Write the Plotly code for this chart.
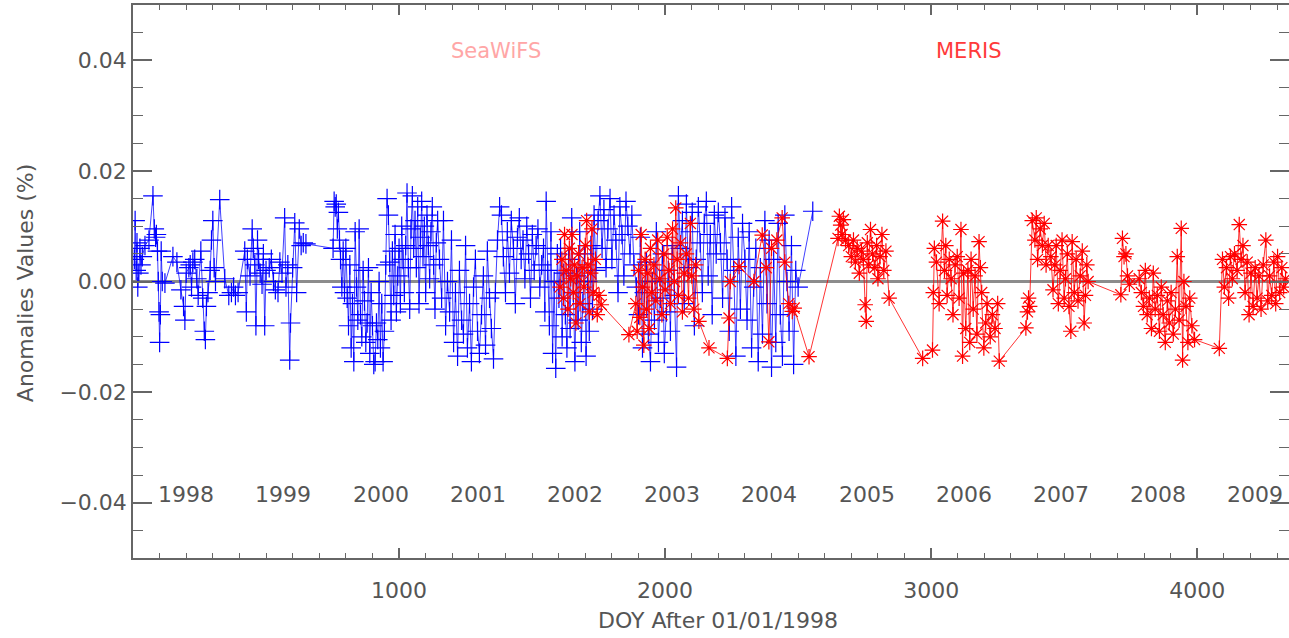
import plotly.graph_objects as go
import pandas as pd

# ---------------- data ----------------
seawifs_doy = [
    5, 8, 12, 15, 18, 22, 26, 30, 35, 45, 60, 75, 80, 85, 88, 92, 95, 98, 100, 103, 106, 110, 120, 150, 165, 180,
    190, 195, 200, 210, 215, 220, 225, 232, 240, 245, 255, 262, 268, 272, 276, 282, 290, 295, 300, 305, 310, 326,
    345, 360, 370, 378, 385, 395, 420, 426, 430, 440, 448, 452, 458, 462, 468, 472, 478, 485, 490, 495, 500, 512,
    520, 528, 535, 545, 552, 560, 570, 575, 582, 589, 592, 600, 608, 615, 625, 632, 640, 650,
    752, 756, 760, 764, 768, 772, 776, 780, 785, 790, 795, 800,
    805, 810, 815, 820, 825, 830, 835, 840, 845, 850, 855, 860, 865, 870, 875, 880, 885, 890, 895, 900,
    905, 910, 915, 920, 925, 930, 935, 940, 945, 950, 955, 960, 965, 970, 975, 980, 985, 990, 995, 1000,
    1005, 1010, 1015, 1020, 1025, 1030, 1035, 1040, 1045,
    1050, 1055, 1060, 1065, 1070, 1075, 1080, 1085, 1090, 1095, 1100, 1105, 1110, 1115, 1120, 1125, 1130, 1135,
    1140, 1145,
    1152, 1160, 1167, 1175, 1182, 1190, 1197, 1205, 1212, 1220, 1227, 1235, 1242, 1250, 1257, 1265, 1272, 1280,
    1287, 1295, 1302, 1310, 1317, 1325, 1332, 1340, 1347, 1355, 1362, 1370,
    1378, 1385, 1392, 1400, 1407, 1415, 1422, 1430, 1437, 1445,
    1452, 1459, 1466, 1473, 1480, 1487, 1494, 1501, 1508, 1515, 1522, 1529, 1536, 1543, 1548,
    1553, 1559, 1565, 1571, 1577, 1583, 1589, 1595,
    1601, 1607, 1613, 1619, 1625, 1631, 1637, 1643, 1649, 1655, 1661, 1667, 1673, 1679, 1685, 1691, 1697, 1703,
    1709, 1715, 1721, 1727, 1733, 1740,
    1748, 1755, 1763, 1770, 1778, 1785, 1793, 1800, 1808, 1815, 1823, 1830, 1838, 1845, 1853, 1860, 1868, 1875,
    1883, 1892,
    1900, 1907, 1915, 1922, 1930, 1937, 1945, 1952, 1960, 1967, 1975, 1982, 1990, 1997, 2005, 2012, 2020, 2027,
    2035, 2043,
    2050, 2057, 2065, 2072, 2080, 2087, 2095, 2102, 2110, 2117, 2125, 2132, 2140, 2147, 2155, 2162, 2170, 2177,
    2185, 2192,
    2200, 2208, 2216, 2225, 2233, 2241, 2250, 2258, 2266, 2275, 2283, 2291,
    2300, 2308, 2316, 2325, 2333, 2341, 2350, 2358, 2366, 2375, 2383, 2391,
    2400, 2408, 2416, 2425, 2433, 2441, 2450, 2458, 2466, 2475, 2483, 2491, 2500, 2555,
]
seawifs_anom = [
    0.004, 0.011, 0.002, 0.007, -0.001, 0.0015, 0.006, 0.003, 0.0045, 0.0065, 0.0075, 0.0155, 0.0095, 0.008,
    0.0085, 0.0055, 0.0, -0.0055, -0.011, -0.006, 0.0055, 0.0, -0.0003, 0.0045, 0.0035, -0.0015,
    -0.0045, -0.007, 0.0015, 0.0025, 0.003, -0.001, 0.0035, 0.004, 0.0005, -0.0025, 0.0055, -0.003, -0.009,
    -0.0105, -0.0045, -0.002, 0.002, 0.0075, 0.011, 0.0025, 0.0, 0.0148,
    0.0005, -0.0025, -0.002, -0.001, -0.0025, -0.002, 0.0055, -0.0055, 0.004, 0.001, 0.0095, 0.006, 0.003,
    -0.008, 0.0075, 0.004, 0.0015, -0.0005, 0.005, -0.008, 0.002, 0.0025,
    0.004, 0.0, -0.0015, -0.002, 0.0035, 0.0015, 0.0115, -0.001, 0.003, -0.0142, -0.0075, 0.0025, 0.0106,
    -0.002, 0.0095, 0.0065, 0.007, 0.0068,
    0.006, 0.0145, 0.0135, 0.014, 0.0095, 0.0125, 0.0075, 0.004, -0.001, 0.0055, -0.002, 0.006,
    -0.003, -0.008, 0.003, -0.012, -0.004, -0.0145, 0.009, -0.001, -0.007, 0.0095,
    -0.006, -0.01, 0.002, -0.0035, -0.011, -0.0075, 0.0025, -0.013, -0.002, -0.008,
    -0.015, -0.0145, -0.0075, -0.0105, 0.0, -0.012, -0.004, -0.0145, -0.009, 0.003,
    0.015, 0.012, 0.0035, -0.007, 0.0055, -0.0025, 0.0085, -0.0055, 0.001, 0.006,
    -0.004, 0.01, 0.004, -0.002, 0.0065, 0.016, 0.0025, -0.005, 0.0095,
    0.0155, 0.006, 0.011, 0.0025, 0.0135, -0.004, 0.008, 0.0145, 0.0045, 0.01, -0.002, 0.012, 0.0065, 0.0005,
    0.009, 0.0135, 0.003, -0.005, 0.007, 0.011,
    0.004, -0.003, 0.011, -0.008, 0.0, -0.0055, 0.0075, -0.011, -0.002, -0.0135, 0.002, -0.007, -0.0095,
    0.0065, -0.012, -0.004, -0.0145, -0.001, 0.004, -0.009, -0.013, -0.006, 0.001, -0.0115, 0.0055, -0.003,
    -0.0085, -0.014, -0.002, 0.0075,
    0.0135, 0.012, 0.0045, -0.002, 0.009, 0.0015, 0.011, 0.006, -0.004, 0.008,
    0.0115, 0.004, 0.0075, 0.0005, 0.01, 0.005, -0.003, 0.0085, 0.002, 0.0065, 0.0095, -0.001, 0.003, 0.006,
    -0.0055,
    0.0145, 0.002, -0.008, 0.009, -0.013, 0.0, -0.0157, 0.005,
    -0.003, 0.006, -0.01, 0.0015, -0.006, -0.012, 0.004, -0.0085, 0.0115, -0.002, -0.0145, 0.001, -0.007,
    0.009, -0.011, -0.004, 0.005, -0.0135, 0.0, -0.009, 0.0065, -0.005, 0.012, 0.002,
    0.011, 0.0155, 0.006, 0.013, 0.0025, 0.0095, 0.015, 0.004, 0.012, 0.0075, -0.002, 0.0135, 0.0085, 0.001,
    0.0145, 0.01, 0.005, 0.012, 0.003, -0.001,
    -0.006, 0.008, -0.012, -0.002, 0.0035, -0.0095, -0.0145, 0.0, -0.007, 0.009, -0.011, -0.003, 0.005,
    -0.013, -0.0055, 0.002, -0.009, 0.0065, -0.0025, -0.0155,
    0.0155, 0.006, 0.011, -0.004, 0.014, 0.0025, 0.009, 0.0125, -0.008, 0.004, 0.0135, 0.007, -0.002, 0.0105,
    0.0145, 0.001, 0.0085, -0.006, 0.012, 0.005,
    0.0125, 0.007, -0.003, 0.0115, 0.004, -0.009, 0.0135, 0.002, -0.0135, 0.008, -0.005, 0.0105,
    0.004, -0.007, 0.009, -0.012, -0.001, 0.006, -0.0145, 0.0025, -0.0095, 0.011, -0.004, 0.0075,
    -0.0155, 0.004, -0.011, 0.0105, -0.006, -0.0135, 0.012, 0.0, -0.009, 0.0065, -0.015, 0.002, -0.001, 0.0127,
]

meris_doy = [
    1605, 1612, 1618, 1622, 1628, 1635, 1640, 1645, 1650, 1655, 1660, 1665, 1670, 1675, 1680, 1688, 1695, 1700,
    1705, 1710, 1715, 1720, 1725, 1730, 1738, 1745, 1752, 1760,
    1864,
    1890, 1895, 1900, 1905, 1910, 1915, 1920, 1925, 1930, 1935, 1940, 1945, 1950, 1958, 1965, 1972, 1980, 1988,
    1995, 2000, 2008, 2015, 2020, 2028, 2035, 2040, 2045, 2050, 2058, 2065, 2072, 2080, 2088, 2095, 2100, 2108,
    2115,
    2127, 2165, 2234, 2240, 2245, 2278, 2334, 2365, 2380, 2390, 2400, 2420, 2440, 2450, 2465, 2478, 2485, 2541,
    2650, 2655, 2660, 2665, 2670, 2678,
    2690, 2700, 2708, 2715, 2722, 2730, 2738, 2745, 2752, 2756, 2760, 2765, 2772, 2780, 2788, 2795, 2800, 2808,
    2815, 2822, 2830, 2842,
    2968, 3005, 3008, 3012, 3020, 3030, 3043, 3050, 3055, 3060, 3068, 3075, 3082, 3090, 3098, 3105, 3112, 3118,
    3122, 3130, 3138, 3145, 3150, 3158, 3165, 3172, 3180, 3185, 3190, 3198, 3205, 3210, 3222, 3230, 3240, 3250,
    3256,
    3356, 3362, 3366, 3370, 3380, 3390, 3395, 3400, 3410, 3418, 3425, 3432, 3440,
    3450, 3458, 3465, 3470, 3478, 3485, 3492, 3500, 3505, 3512, 3518, 3525, 3530, 3538, 3545, 3552, 3560, 3568,
    3575, 3580, 3585, 3590,
    3713, 3719, 3725, 3732, 3738, 3745,
    3782, 3790, 3798, 3805, 3812, 3820, 3828, 3835, 3842, 3850, 3858, 3865, 3872, 3880, 3888, 3895, 3902, 3910,
    3918, 3925, 3932, 3940, 3945, 3950, 3958, 3965, 3972, 3980, 3990,
    4083, 4095, 4102, 4110, 4118, 4125, 4132, 4140, 4150, 4158, 4165, 4172, 4180, 4188, 4195, 4202, 4210, 4218,
    4225, 4232, 4240, 4248, 4258, 4265, 4272, 4280, 4288, 4295, 4302, 4310, 4318, 4325, 4332,
]
meris_anom = [
    -0.001, 0.004, -0.003, 0.0085, 0.002, -0.005, 0.006, 0.0005, 0.0085, -0.002, 0.003, -0.0075, 0.001, 0.005,
    -0.004, 0.0025, -0.001, 0.0065, 0.011, 0.003, -0.0055, 0.0015, 0.0095, -0.002, 0.004, -0.006, -0.0025,
    -0.0042,
    -0.0096,
    -0.004, -0.009, 0.002, -0.0065, 0.0085, -0.001, -0.0115, 0.004, -0.005, 0.0015, -0.0085, 0.006, -0.002,
    0.003, -0.0035, 0.0075, 0.0005, -0.006, 0.005, -0.0015, 0.008, 0.002, -0.004, 0.0095, 0.0, 0.0133, 0.004,
    -0.0025, 0.007, -0.0055, 0.0015, 0.005, -0.003, 0.0105, 0.001, -0.005, 0.003,
    -0.0072, -0.012, -0.0139, -0.0066, 0.0, 0.0027, 0.0, 0.0084, 0.0025, -0.0109, 0.006, 0.0075, 0.0115, 0.0035,
    -0.004, -0.0054, -0.0048, -0.0136,
    0.0078, 0.0118, 0.0102, 0.0085, 0.0112, 0.0075,
    0.0065, 0.0045, 0.0075, 0.0035, 0.006, 0.0015, 0.0055, 0.004, -0.0042, -0.0072, 0.007, 0.003, 0.0094, 0.005,
    0.0025, 0.0065, 0.0005, 0.0045, 0.0085, 0.002, 0.0055, -0.003,
    -0.0139, -0.0124, -0.002, 0.006, 0.0035, -0.004, 0.0109, 0.002, 0.0065, -0.0025, 0.004, 0.0005, -0.006,
    0.003, 0.0045, -0.003, 0.0094, -0.0135, 0.0015, -0.0085, 0.002, -0.011, 0.004, -0.005, 0.001, -0.0095,
    0.0072, 0.0025, -0.002, -0.012, -0.0075, -0.004, -0.01, -0.006, -0.0085, -0.004, -0.0144,
    -0.0084, -0.0055, -0.003, -0.0045, 0.011, 0.0075, 0.0115, 0.004, 0.0095, 0.0065, 0.0105, 0.003, 0.0065,
    0.0045, -0.0015, 0.003, 0.0065, -0.004, 0.002, 0.0075, -0.003, 0.0005, 0.005, -0.0045, -0.009, 0.0072,
    -0.002, 0.004, -0.0035, 0.001, 0.0055, -0.0075, -0.0025, 0.003, 0.0,
    -0.0024, 0.0078, 0.0045, 0.005, 0.001, -0.0005,
    0.0005, -0.002, -0.0045, 0.002, -0.006, -0.003, -0.0085, 0.0015, -0.005, -0.0025, -0.009, -0.001, -0.006,
    -0.011, -0.0035, -0.0075, -0.002, -0.0095, -0.005, 0.0045, -0.007, 0.0096, -0.0142, 0.0, -0.0045, -0.011,
    -0.003, -0.008, -0.0105,
    -0.0121, 0.004, -0.001, 0.0025, -0.003, 0.0045, 0.0005, 0.005, 0.002, 0.0103, 0.004, 0.0065, -0.002, 0.0035,
    -0.006, 0.0015, -0.0045, 0.0025, -0.003, 0.001, -0.005, 0.003, 0.0075, -0.0035, 0.001, -0.0025, 0.0035,
    -0.004, 0.0045, -0.002, 0.0025, -0.001, 0.0005,
]

years = [1998, 1999, 2000, 2001, 2002, 2003, 2004, 2005, 2006, 2007, 2008, 2009]
x_ticks = [1000, 2000, 3000, 4000]
y_ticks = [-0.04, -0.02, 0.0, 0.02, 0.04]

# year labels placed mid-year (DOY after 01/01/1998)
year_doy = [(pd.Timestamp(f"{y}-07-20") - pd.Timestamp("1998-01-01")).days for y in years]

FONT = "DejaVu Sans"
TXT = "#555555"
AX = "#666666"

fig = go.Figure()
fig.add_trace(go.Scatter(
    x=seawifs_doy, y=seawifs_anom, mode="lines+markers", name="SeaWiFS",
    line=dict(color="rgba(0,0,255,0.75)", width=1),
    marker=dict(symbol="cross-thin-open", size=14, color="blue", line=dict(color="blue", width=1.2)),
))
fig.add_trace(go.Scatter(
    x=meris_doy, y=meris_anom, mode="lines+markers", name="MERIS",
    line=dict(color="rgba(255,0,0,0.8)", width=1),
    marker=dict(symbol="asterisk-open", size=13, color="red", line=dict(color="red", width=1.2)),
))

annotations = []
for yr, xd in zip(years, year_doy):
    annotations.append(dict(x=xd, y=-0.0385, xref="x", yref="y", text=str(yr), showarrow=False,
                            font=dict(family=FONT, size=22, color=TXT)))
annotations.append(dict(x=1365, y=0.0416, xref="x", yref="y", text="SeaWiFS", showarrow=False,
                        font=dict(family=FONT, size=21, color="#ffa6a6")))
annotations.append(dict(x=3143, y=0.0416, xref="x", yref="y", text="MERIS", showarrow=False,
                        font=dict(family=FONT, size=21, color="#ff3a3a")))
annotations.append(dict(x=0.506, y=0, xref="paper", yref="paper", yshift=-62, yanchor="middle",
                        text="DOY After 01/01/1998", showarrow=False,
                        font=dict(family=FONT, size=22, color=TXT)))
annotations.append(dict(x=0, y=0.497, xref="paper", yref="paper", xshift=-108, xanchor="center",
                        yanchor="middle", textangle=-90, text="Anomalies Values (%)", showarrow=False,
                        font=dict(family=FONT, size=22, color=TXT)))

fig.update_layout(
    width=1289, height=638,
    margin=dict(l=133, r=0, t=5, b=80, autoexpand=False),
    plot_bgcolor="white", paper_bgcolor="white",
    showlegend=False,
    font=dict(family=FONT, size=22, color=TXT),
    annotations=annotations,
    xaxis=dict(
        range=[0, 4345], tickvals=x_ticks, ticks="inside", ticklen=10, tickwidth=1.5, tickcolor=AX,
        showline=True, linecolor=AX, linewidth=1.5, mirror="ticks", showgrid=False, zeroline=False,
        ticklabelstandoff=12, automargin=False,
        tickfont=dict(family=FONT, size=22, color=TXT),
        minor=dict(dtick=100, tick0=0, ticklen=5, ticks="inside", tickcolor=AX, tickwidth=1.2, showgrid=False),
    ),
    yaxis=dict(
        range=[-0.05, 0.05], tickvals=y_ticks, tickformat=".2f", ticks="inside", ticklen=19, tickwidth=1.5,
        tickcolor=AX, showline=True, linecolor=AX, linewidth=1.5, mirror="ticks", showgrid=False,
        zeroline=True, zerolinecolor="#8c8c8c", zerolinewidth=2.5, automargin=False,
        tickfont=dict(family=FONT, size=22, color=TXT),
        minor=dict(dtick=0.005, tick0=0, ticklen=10, ticks="inside", tickcolor=AX, tickwidth=1.2, showgrid=False),
    ),
)

fig.write_html("out.html", config={"displayModeBar": False},
               post_script="document.body.style.margin='0';")
